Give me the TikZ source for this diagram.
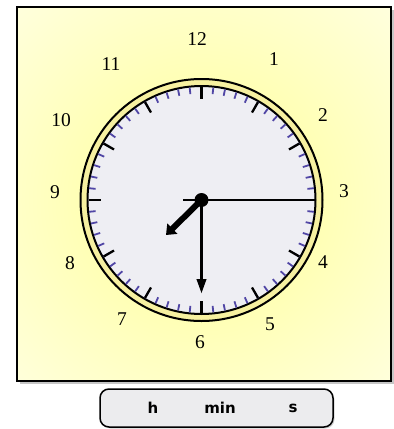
\documentclass[tikz,border=0pt]{standalone}
\usepackage{fontspec}
\newfontfamily\numfont{Liberation Serif}
\newfontfamily\unitfont{DejaVu Sans}
\usepackage{tikz}
\usetikzlibrary{arrows.meta}
\usetikzlibrary{calc, shadows}

\definecolor{facegray}{RGB}{238,238,243}
\definecolor{ringyellow}{RGB}{246,240,160}
\definecolor{tickblue}{RGB}{80,70,165}
\definecolor{glowyellow}{RGB}{255,255,150}
\definecolor{paleyellow}{RGB}{255,255,250}
\definecolor{boxgray}{RGB}{236,236,238}

\begin{document}
\begin{tikzpicture}[x=1pt, y=-1pt,
	numlabel/.style={font=\numfont\fontsize{19.5}{20}\selectfont},
	unitlabel/.style={font=\unitfont\bfseries\fontsize{15}{16}\selectfont},
	minortick/.style={tickblue, line width=1.8pt},
	majortick/.style={black, line width=2.3pt}]
			
			\useasboundingbox (0,0) rectangle (394,429);
			
			\coordinate (O) at (201.5,200);
			\coordinate (hourTip) at (166,235);
			\coordinate (minTip) at (201.5,294);
			\coordinate (secTip) at (313,200);
			\coordinate (secTail) at (183,200);
			
			% frame with the yellow glow
			\path[fill=white, drop shadow={shadow xshift=2.5pt, shadow yshift=-2.5pt, opacity=.45}] (17,7) rectangle (391,381);
			\begin{scope}
				\clip (17,7) rectangle (391,381);
				\shade[inner color=glowyellow, outer color=paleyellow] (O) circle (380);
			\end{scope}
			\draw[line width=1.8pt] (17,7) rectangle (391,381);
			
			% dial
			\draw[line width=2pt, fill=ringyellow] (O) circle (121);
			\draw[line width=2pt, fill=facegray] (O) circle (114);
			
			\foreach \a in {0,6,...,354}
				\draw[minortick] ($(O)+(\a:113)$) -- ($(O)+(\a:106.5)$);
			\foreach \a in {0,30,...,330}
				\draw[majortick] ($(O)+(\a:113)$) -- ($(O)+(\a:101)$);
			
			\foreach \n/\x/\y in {12/197/39, 1/274/59, 2/323/115, 3/344/191, 4/323/262, 5/270/324,
				6/200/342, 7/122/319, 8/70/263, 9/55/192, 10/61/120, 11/111/64}
				\node[numlabel] (n\n) at (\x,\y) {\n};
			
			% hands
			\draw[line width=1.8pt] (secTail) -- (secTip);
			\draw[line width=6pt, -{Triangle[length=9pt, width=14pt]}] (O) -- (hourTip);
			\draw[line width=3.5pt, -{Triangle[length=15pt, width=9pt]}] (O) -- (minTip);
			\fill (O) circle (7);
			
			% units bar
			\draw[line width=1.5pt, fill=boxgray, rounded corners=9pt,
				drop shadow={shadow xshift=1.5pt, shadow yshift=-1.5pt, opacity=.35}] (100,389) rectangle (333,427);
			\node[unitlabel] (hLbl) at (153,408) {h};
			\node[unitlabel] (minLbl) at (220,408) {min};
			\node[unitlabel] (sLbl) at (293,408) {s};
			
\end{tikzpicture}
\end{document}
